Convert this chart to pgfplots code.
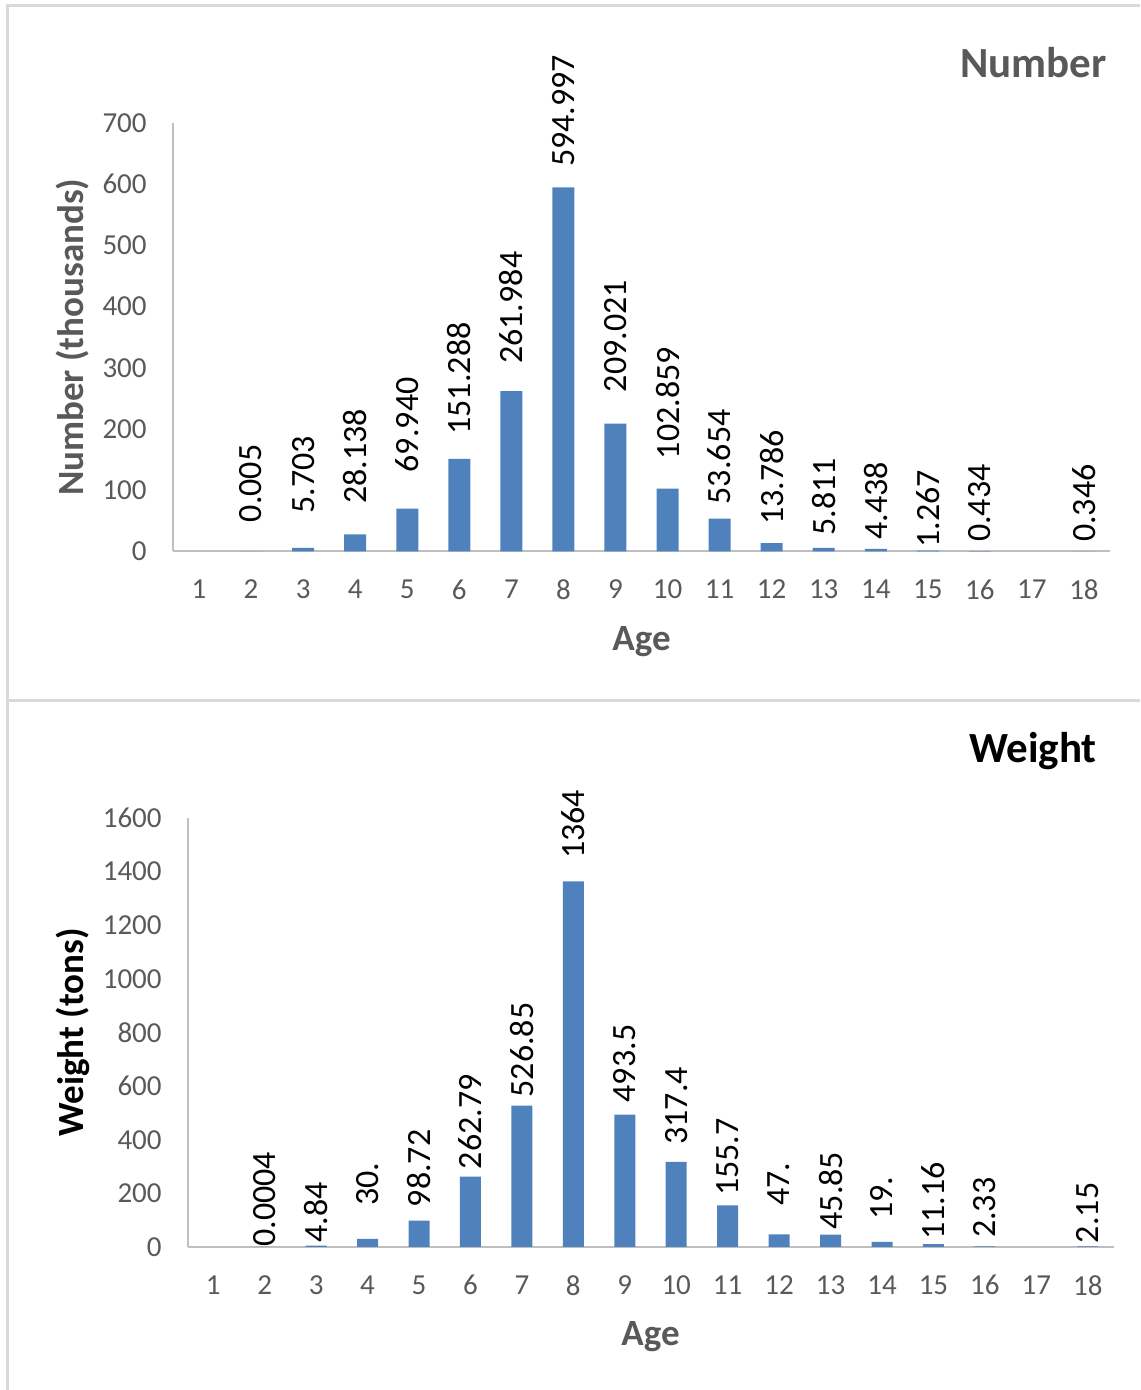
\documentclass[border=0pt]{standalone}
\usepackage{fontspec}
\setmainfont{Carlito}
\usepackage{pgfplots}
\usepackage{pgfplotstable}
\pgfplotsset{compat=1.18}

\definecolor{barblue}{HTML}{4F81BD}
\definecolor{txtgray}{HTML}{595959}
\definecolor{axgray}{HTML}{BFBFBF}
\definecolor{framegray}{HTML}{D9D9D9}

% age, value, printed label, lift of the label above its bar (pt)
\pgfplotstableread{
age val lab off
2 0.005 0.005 14.5
3 5.703 5.703 17
4 28.138 28.138 15
5 69.940 69.940 18
6 151.288 151.288 12
7 261.984 261.984 13.5
8 594.997 594.997 10
9 209.021 209.021 15.5
10 102.859 102.859 14.5
11 53.654 53.654 7
12 13.786 13.786 9
13 5.811 5.811 6
14 4.438 4.438 4.5
15 1.267 1.267 1.5
16 0.434 0.434 4.5
18 0.346 0.346 4.5
}\numbertable

\pgfplotstableread{
age val lab off
2 0.0004 0.0004 0
3 4.84 4.84 1.5
4 30 30. 16.5
5 98.72 98.72 6.5
6 262.79 262.79 3.5
7 526.85 526.85 4
8 1364 1364 11
9 493.5 493.5 6
10 317.4 317.4 8.5
11 155.7 155.7 4.5
12 47 47. 14
13 45.85 45.85 2.5
14 19 19. 11
15 11.16 11.16 2
16 2.33 2.33 4
18 2.15 2.15 1.5
}\weighttable

\pgfplotsset{
  agebars/.style={
    scale only axis,
    anchor=south west,
    clip=false,
    xmin=0.5, xmax=18.5,
    ymin=0,
    xtick={1,...,18},
    axis lines*=left,
    axis line style={draw=axgray, line width=1pt},
    major tick length=0pt,
    tick style={draw=none},
    /pgf/number format/assume math mode=true,
    /pgf/number format/1000 sep={},
    tick label style={font=\fontsize{14.5}{17}\selectfont, text=txtgray, inner sep=0pt},
    xticklabel style={anchor=north, yshift=-14pt},
    every axis x label/.style={at={(axis description cs:0.5,0)}, anchor=center,
      yshift=-45pt, font=\fontsize{18.5}{22}\selectfont\bfseries, text=txtgray},
    xlabel={Age},
    ybar,
    point meta=explicit symbolic,
    nodes near coords,
    visualization depends on={\thisrow{off}\as\labeloff},
    nodes near coords style={yshift=\labeloff, rotate=90, anchor=west,
      inner sep=0pt, font=\fontsize{17}{20}\selectfont, text=black},
  }
}

\begin{document}
\begin{tikzpicture}
\useasboundingbox (0,0) rectangle (570pt,695pt);

% chart frames
\draw[framegray, line width=1.5pt] (3.9pt,0) -- (3.9pt,692pt) -- (570pt,692pt);
\draw[framegray, line width=1.5pt] (3.9pt,344.6pt) -- (570pt,344.6pt);

% numbers at age
\begin{axis}[agebars,
  at={(86.5pt,419.25pt)},
  width=468.5pt, height=214.25pt,
  ymax=700, ytick={0,100,...,700},
  yticklabel style={anchor=east, xshift=-13pt},
  bar width=11pt,
  every axis y label/.style={at={(axis description cs:0,0.5)}, xshift=-50pt,
    rotate=90, anchor=center, font=\fontsize{18.5}{22}\selectfont\bfseries, text=txtgray},
  ylabel={Number (thousands)},
]
\addplot[fill=barblue, draw=none] table[x=age, y=val, meta=lab] \numbertable;
\end{axis}
\node[anchor=base east, inner sep=0pt, font=\fontsize{21.5}{26}\selectfont\bfseries,
  text=txtgray] at (553.5pt,656pt) {Number};

% weight at age
\begin{axis}[agebars,
  at={(93.75pt,71.5pt)},
  width=463pt, height=214.5pt,
  ymax=1600, ytick={0,200,...,1600},
  yticklabel style={anchor=east, xshift=-12.75pt},
  bar width=10.5pt,
  every axis y label/.style={at={(axis description cs:0,0.5)}, xshift=-57.25pt,
    rotate=90, anchor=center, font=\fontsize{18.5}{22}\selectfont\bfseries, text=black},
  ylabel={Weight (tons)},
]
\addplot[fill=barblue, draw=none] table[x=age, y=val, meta=lab] \weighttable;
\end{axis}
\node[anchor=base east, inner sep=0pt, font=\fontsize{21.5}{26}\selectfont\bfseries,
  text=black] at (548.5pt,313.5pt) {Weight};
\end{tikzpicture}
\end{document}
